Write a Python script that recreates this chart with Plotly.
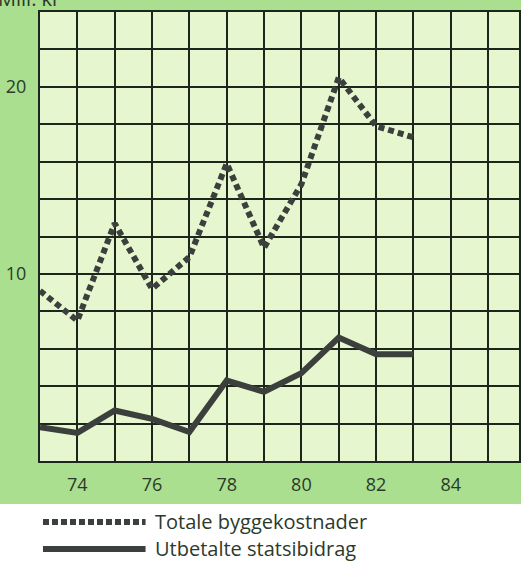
import plotly.graph_objects as go

years = [73, 74, 75, 76, 77, 78, 79, 80, 81, 82, 83]
totale = [9.1, 7.5, 12.7, 9.2, 10.9, 15.9, 11.4, 14.8, 20.5, 17.9, 17.3]
statsbidrag = [1.8, 1.5, 2.7, 2.25, 1.55, 4.3, 3.7, 4.7, 6.6, 5.7, 5.7]
x_ticks = [74, 76, 78, 80, 82, 84]
y_ticks = [10, 20]
series_names = ["Totale byggekostnader", "Utbetalte statsibidrag"]

W, H = 521, 563
L, R, T, B = 40, 0, 12, 102
ph = H - T - B
pw = W - L - R
green_bottom_px = 504
line_col = "#3b403c"
grid_col = "#1d261d"
txt_col = "#2b3a2b"
font_fam = "'Open Sans', Lato, sans-serif"

fig = go.Figure()
fig.add_trace(go.Scatter(x=years, y=totale, mode="lines", name=series_names[0],
                         line=dict(color=line_col, width=6, dash="6px,4px"),
                         showlegend=False))
fig.add_trace(go.Scatter(x=years, y=statsbidrag, mode="lines", name=series_names[1],
                         line=dict(color=line_col, width=6),
                         showlegend=False))

def py(px):
    return (H - B - px) / ph

def px_x(px):
    return (px - L) / pw

# white legend area below the green panel
fig.add_shape(type="rect", xref="paper", yref="paper",
              x0=px_x(-5), x1=px_x(W + 5), y0=py(H + 5), y1=py(green_bottom_px),
              fillcolor="white", line=dict(width=0), layer="above")

# manual legend
leg_y = [522, 549]
fig.add_shape(type="line", xref="paper", yref="paper",
              x0=px_x(43), x1=px_x(146), y0=py(leg_y[0]), y1=py(leg_y[0]),
              line=dict(color=line_col, width=6, dash="6px,3px"))
fig.add_shape(type="line", xref="paper", yref="paper",
              x0=px_x(43), x1=px_x(146), y0=py(leg_y[1]), y1=py(leg_y[1]),
              line=dict(color=line_col, width=6))
for name, ly in zip(series_names, leg_y):
    fig.add_annotation(xref="paper", yref="paper", x=px_x(153), y=py(ly - 1),
                       text=name, showarrow=False, xanchor="left", yanchor="middle",
                       font=dict(size=20, color=txt_col, family=font_fam))

# axis title partially cut at top
fig.add_annotation(xref="paper", yref="paper", x=px_x(-4), y=py(14),
                   text="Mill. kr", showarrow=False, xanchor="left", yanchor="bottom",
                   font=dict(size=20, color=txt_col, family=font_fam))

fig.update_xaxes(range=[73, 73 + pw / 37.5], tickvals=x_ticks,
                 ticktext=[str(v) for v in x_ticks],
                 showgrid=True, gridcolor=grid_col, gridwidth=2,
                 minor=dict(dtick=1, tick0=73, showgrid=True, gridcolor=grid_col, gridwidth=2),
                 showline=True, linecolor=grid_col, linewidth=2, mirror=True,
                 ticks="", ticklabelstandoff=6,
                 tickfont=dict(size=18, color=txt_col, family=font_fam),
                 zeroline=False)
fig.update_yaxes(range=[0, 24], tickvals=y_ticks, ticktext=[str(v) for v in y_ticks],
                 showgrid=False,
                 minor=dict(dtick=2, tick0=0, showgrid=True, gridcolor=grid_col, gridwidth=2),
                 showline=True, linecolor=grid_col, linewidth=2, mirror=True,
                 ticks="", ticklabelstandoff=8,
                 tickfont=dict(size=18, color=txt_col, family=font_fam),
                 zeroline=False)

fig.update_layout(width=W, height=H, margin=dict(l=L, r=R, t=T, b=B, pad=0),
                  paper_bgcolor="#a9df8e", plot_bgcolor="#e6f6cf",
                  showlegend=False)

fig.write_html("out.html", config={"displayModeBar": False},
               post_script="document.body.style.margin='0';document.body.style.overflow='hidden';")
